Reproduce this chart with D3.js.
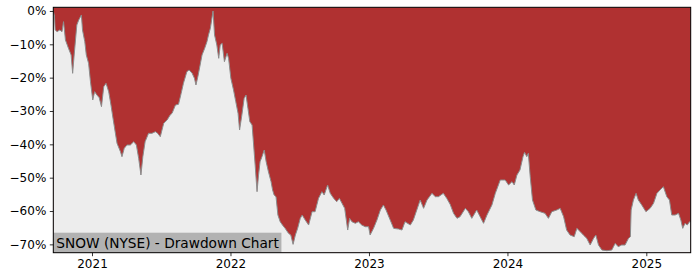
<!DOCTYPE html>
<html>
<head>
<meta charset="utf-8">
<script src="https://cdn.jsdelivr.net/npm/d3@7"></script>
<style>
  body { margin: 0; background: #fff; }
  svg { display: block; font-family: "DejaVu Sans", sans-serif; }
</style>
</head>
<body>
<svg id="chart" width="700" height="280"></svg>
<script>
const title = "SNOW (NYSE) - Drawdown Chart";

const dates = [
  "2020-09-21","2020-09-24","2020-09-26","2020-10-01","2020-10-08","2020-10-14","2020-10-18","2020-10-23",
  "2020-10-31","2020-11-07","2020-11-11","2020-11-15","2020-11-22","2020-11-27","2020-12-04","2020-12-07",
  "2020-12-13","2020-12-17","2020-12-23","2020-12-28","2021-01-03","2021-01-08","2021-01-14","2021-01-20",
  "2021-01-26","2021-02-01","2021-02-07","2021-02-14","2021-02-20","2021-02-24","2021-03-03","2021-03-08",
  "2021-03-17","2021-03-21","2021-03-27","2021-04-03","2021-04-12","2021-04-21","2021-04-28","2021-05-04",
  "2021-05-10","2021-05-15","2021-05-21","2021-05-30","2021-06-08","2021-06-17","2021-06-23","2021-06-30",
  "2021-07-09","2021-07-18","2021-07-26","2021-07-31","2021-08-09","2021-08-17","2021-08-24","2021-08-30",
  "2021-09-08","2021-09-14","2021-09-22","2021-09-28","2021-10-02","2021-10-07","2021-10-13","2021-10-18",
  "2021-10-25","2021-10-31","2021-11-04","2021-11-09","2021-11-16","2021-11-20","2021-11-26","2021-12-01",
  "2021-12-05","2021-12-10","2021-12-16","2021-12-23","2021-12-27","2022-01-02","2022-01-09","2022-01-15",
  "2022-01-21","2022-01-25","2022-01-31","2022-02-06","2022-02-11","2022-02-16","2022-02-21","2022-02-27",
  "2022-03-03","2022-03-07","2022-03-12","2022-03-16","2022-03-20","2022-03-25","2022-03-31","2022-04-05",
  "2022-04-11","2022-04-18","2022-04-22","2022-04-26","2022-05-01","2022-05-06","2022-05-12","2022-05-18",
  "2022-05-25","2022-06-03","2022-06-09","2022-06-15","2022-06-21","2022-06-27","2022-07-04","2022-07-09",
  "2022-07-17","2022-07-26","2022-08-04","2022-08-12","2022-08-21","2022-08-30","2022-09-05","2022-09-14",
  "2022-09-21","2022-09-30","2022-10-08","2022-10-15","2022-10-22","2022-10-29","2022-11-06","2022-11-11",
  "2022-11-17","2022-11-26","2022-12-04","2022-12-13","2022-12-22","2022-12-31","2023-01-04","2023-01-13",
  "2023-01-22","2023-01-31","2023-02-08","2023-02-15","2023-02-26","2023-03-07","2023-03-20","2023-03-29",
  "2023-04-06","2023-04-20","2023-04-28","2023-05-07","2023-05-16","2023-05-25","2023-06-03","2023-06-16",
  "2023-06-25","2023-07-03","2023-07-16","2023-07-25","2023-08-03","2023-08-12","2023-08-21","2023-08-29",
  "2023-09-12","2023-09-20","2023-09-29","2023-10-12","2023-10-21","2023-10-30","2023-11-08","2023-11-21",
  "2023-11-30","2023-12-13","2023-12-26","2024-01-04","2024-01-13","2024-01-19","2024-01-26","2024-02-03",
  "2024-02-11","2024-02-15","2024-02-21","2024-02-25","2024-03-01","2024-03-07","2024-03-16","2024-03-27",
  "2024-04-09","2024-04-18","2024-04-27","2024-05-10","2024-05-19","2024-05-28","2024-06-05","2024-06-14",
  "2024-06-25","2024-07-02","2024-07-11","2024-07-19","2024-07-28","2024-08-06","2024-08-15","2024-08-21",
  "2024-08-28","2024-09-06","2024-09-19","2024-10-02","2024-10-11","2024-10-19","2024-10-28","2024-11-06",
  "2024-11-15","2024-11-20","2024-11-22","2024-11-28","2024-12-05","2024-12-11","2024-12-20","2024-12-31",
  "2025-01-11","2025-01-20","2025-01-29","2025-02-06","2025-02-15","2025-02-24","2025-03-03","2025-03-09",
  "2025-03-18","2025-03-27","2025-04-02","2025-04-07","2025-04-13","2025-04-19","2025-04-25","2025-04-28"
];

const drawdown = [
  0.000,-0.015,-0.057,-0.062,-0.057,-0.062,-0.032,-0.087,
  -0.112,-0.132,-0.187,-0.132,-0.042,-0.027,-0.012,-0.057,
  -0.092,-0.132,-0.157,-0.212,-0.267,-0.242,-0.252,-0.260,
  -0.287,-0.227,-0.217,-0.242,-0.282,-0.312,-0.362,-0.397,
  -0.422,-0.437,-0.412,-0.402,-0.402,-0.392,-0.402,-0.442,
  -0.492,-0.437,-0.392,-0.367,-0.367,-0.362,-0.367,-0.377,
  -0.337,-0.327,-0.312,-0.307,-0.282,-0.280,-0.247,-0.217,
  -0.182,-0.177,-0.187,-0.202,-0.222,-0.197,-0.162,-0.132,
  -0.112,-0.092,-0.072,-0.052,0.000,-0.072,-0.102,-0.142,
  -0.102,-0.097,-0.152,-0.127,-0.142,-0.202,-0.237,-0.272,
  -0.307,-0.357,-0.312,-0.262,-0.252,-0.292,-0.332,-0.342,
  -0.402,-0.462,-0.542,-0.492,-0.452,-0.437,-0.417,-0.452,
  -0.482,-0.512,-0.537,-0.552,-0.557,-0.612,-0.632,-0.642,
  -0.652,-0.667,-0.672,-0.700,-0.672,-0.652,-0.622,-0.612,
  -0.627,-0.642,-0.602,-0.602,-0.562,-0.542,-0.552,-0.522,
  -0.547,-0.562,-0.572,-0.562,-0.577,-0.592,-0.657,-0.622,
  -0.632,-0.637,-0.632,-0.642,-0.647,-0.647,-0.672,-0.652,
  -0.627,-0.597,-0.582,-0.597,-0.627,-0.652,-0.654,-0.657,
  -0.632,-0.642,-0.627,-0.597,-0.567,-0.592,-0.567,-0.547,
  -0.557,-0.557,-0.547,-0.562,-0.580,-0.607,-0.622,-0.617,
  -0.592,-0.602,-0.622,-0.597,-0.617,-0.637,-0.612,-0.582,
  -0.547,-0.507,-0.507,-0.522,-0.512,-0.522,-0.492,-0.477,
  -0.437,-0.424,-0.437,-0.427,-0.497,-0.567,-0.597,-0.602,
  -0.607,-0.622,-0.602,-0.597,-0.592,-0.617,-0.657,-0.672,
  -0.677,-0.652,-0.662,-0.672,-0.682,-0.702,-0.682,-0.672,
  -0.702,-0.717,-0.719,-0.717,-0.697,-0.707,-0.702,-0.702,
  -0.682,-0.677,-0.597,-0.567,-0.547,-0.567,-0.582,-0.602,
  -0.592,-0.577,-0.547,-0.537,-0.527,-0.557,-0.567,-0.612,
  -0.612,-0.607,-0.627,-0.652,-0.637,-0.642,-0.632,-0.632
];

const yTicks = [0, -0.1, -0.2, -0.3, -0.4, -0.5, -0.6, -0.7];
const xTickYears = [2021, 2022, 2023, 2024, 2025];

const parse = d3.timeParse("%Y-%m-%d");
const data = dates.map((d, i) => ({ date: parse(d), dd: drawdown[i] }));

const svg = d3.select("#chart");
const width = 700, height = 280;
const margin = { top: 7.3, right: 9.3, bottom: 27.3, left: 53.3 };

const x = d3.scaleTime()
  .domain(d3.extent(data, d => d.date))
  .range([margin.left, width - margin.right]);

const y = d3.scaleLinear()
  .domain([-0.725, 0.011])
  .range([height - margin.bottom, margin.top]);

// red fill over the whole plot area, grey below the drawdown curve
svg.append("rect")
  .attr("x", margin.left)
  .attr("y", margin.top)
  .attr("width", width - margin.left - margin.right)
  .attr("height", height - margin.top - margin.bottom)
  .attr("fill", "#b03131");

const area = d3.area()
  .x(d => x(d.date))
  .y0(height - margin.bottom)
  .y1(d => y(d.dd));

svg.append("path")
  .datum(data)
  .attr("fill", "#ededed")
  .attr("d", area);

svg.append("path")
  .datum(data)
  .attr("fill", "none")
  .attr("stroke", "#8c8c8c")
  .attr("stroke-width", 1)
  .attr("d", d3.line().x(d => x(d.date)).y(d => y(d.dd)));

// title box
const label = svg.append("g");
const labelBg = label.append("rect")
  .attr("fill", "#b2b2b2");
const labelText = label.append("text")
  .attr("x", margin.left + 3)
  .attr("y", height - margin.bottom - 4.5)
  .attr("font-size", 13.7)
  .attr("fill", "#000")
  .text(title);
const bb = labelText.node().getBBox();
labelBg
  .attr("x", margin.left)
  .attr("y", height - margin.bottom - 20)
  .attr("width", bb.width + 5)
  .attr("height", 20);

// axes
const fmt = v => v === 0 ? "0%" : "\u2212" + Math.round(Math.abs(v) * 100) + "%";

const yAxis = svg.append("g")
  .attr("transform", `translate(${margin.left},0)`)
  .call(d3.axisLeft(y).tickValues(yTicks).tickFormat(fmt).tickSize(3.5).tickPadding(3.5));

const xAxis = svg.append("g")
  .attr("transform", `translate(0,${height - margin.bottom})`)
  .call(d3.axisBottom(x)
    .tickValues(xTickYears.map(yr => new Date(yr, 0, 1)))
    .tickFormat(d3.timeFormat("%Y"))
    .tickSize(3.5).tickPadding(3.5));

[yAxis, xAxis].forEach(g => {
  g.select(".domain").remove();
  g.selectAll("text").attr("font-size", 12).attr("fill", "#000")
    .attr("font-family", "DejaVu Sans, sans-serif");
  g.selectAll("line").attr("stroke", "#000").attr("stroke-width", 0.8);
});

// frame
svg.append("rect")
  .attr("x", margin.left)
  .attr("y", margin.top)
  .attr("width", width - margin.left - margin.right)
  .attr("height", height - margin.top - margin.bottom)
  .attr("fill", "none")
  .attr("stroke", "#000")
  .attr("stroke-width", 1);
</script>
</body>
</html>
